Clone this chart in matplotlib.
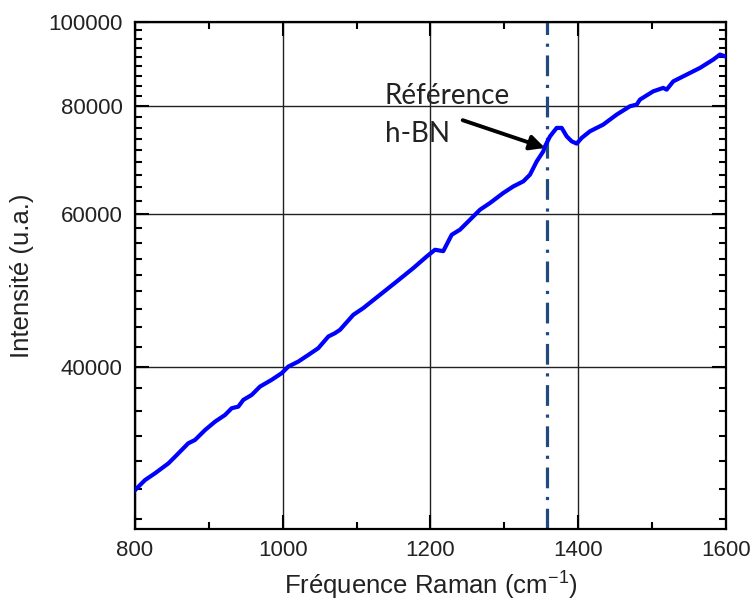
import numpy as np
import matplotlib
matplotlib.use("Agg")
from matplotlib import pyplot as plt
from matplotlib.ticker import FixedLocator, FuncFormatter, NullFormatter, MultipleLocator

plt.rcParams['font.family'] = ['Liberation Sans', 'DejaVu Sans']
plt.rcParams['mathtext.default'] = 'regular'

# spectre (cm-1, u.a.)
freq = [800.0, 813.5, 827.1, 845.1, 854.1, 872.1, 881.2, 894.8, 908.3, 921.8,
        930.9, 939.8, 946.6, 958.0, 969.2, 985.0, 998.6, 1007.5, 1021.1, 1034.6,
        1048.1, 1061.7, 1070.7, 1077.5, 1095.5, 1109.0, 1131.6, 1154.2, 1176.7, 1194.8,
        1206.1, 1217.3, 1228.7, 1239.9, 1253.5, 1267.0, 1280.5, 1298.5, 1312.1, 1325.6,
        1334.7, 1343.8, 1352.7, 1355.0, 1361.8, 1370.8, 1377.6, 1384.4, 1391.1, 1397.9,
        1404.7, 1415.9, 1433.9, 1452.1, 1470.1, 1479.1, 1483.6, 1501.6, 1515.1, 1519.7,
        1528.7, 1546.8, 1564.8, 1582.8, 1591.9, 1598.6]
intensity = [28830, 29610, 30150, 30950, 31500, 32650, 32940, 33820, 34580, 35200,
             35840, 35990, 36640, 37130, 37960, 38650, 39340, 40030, 40570, 41290,
             42040, 43360, 43750, 44140, 45930, 46760, 48440, 50180, 52000, 53630,
             54600, 54400, 56820, 57590, 59140, 60730, 61820, 63490, 64610, 65480,
             66660, 69050, 70920, 71870, 73800, 75480, 75480, 73800, 72840, 72390,
             73500, 74800, 76150, 78200, 79950, 80300, 81380, 83190, 83940, 83560,
             85420, 86960, 88520, 90500, 91720, 91300]

ref_hbn = 1358
arrow_head = (1355, 71570)
arrow_tail = (1243.6, 77040)

x_major = [800, 1000, 1200, 1400, 1600]
y_major = [40000, 60000, 80000, 100000]

fig = plt.figure(figsize=(7.53, 6.05), dpi=100)
ax = fig.add_axes([0.1793, 0.1256, 0.7848, 0.838])

ax.plot(freq, intensity, color='#0000ff', lw=3.0, zorder=3)
ax.axvline(ref_hbn, color='#1f4a80', lw=2.3, linestyle=(0, (6.5, 2.7, 1.0, 2.7)), zorder=2)

ax.set_yscale('log')
ax.set_xlim(800, 1600)
ax.set_ylim(26000, 100000)

ax.xaxis.set_major_locator(FixedLocator(x_major))
ax.xaxis.set_minor_locator(MultipleLocator(100))
ax.yaxis.set_major_locator(FixedLocator(y_major))
ax.yaxis.set_major_formatter(FuncFormatter(lambda v, p: '%d' % round(v)))
ax.yaxis.set_minor_locator(FixedLocator(np.linspace(20000, 100000, 37)))
ax.yaxis.set_minor_formatter(NullFormatter())

ax.grid(True, which='major', color='#222222', lw=1.0, zorder=1)
ax.tick_params(which='both', direction='in', top=True, right=True, width=1.5,
               labelsize=16, labelcolor='#222222')
ax.tick_params(axis='y', which='major', length=10, pad=9)
ax.tick_params(axis='x', which='major', length=10, pad=8)
ax.tick_params(which='minor', length=5)
for s in ax.spines.values():
    s.set_linewidth(1.6)

ax.set_xlabel('Fréquence Raman (cm$^{-1}$)', fontsize=18.5, color='#222222', labelpad=6)
ax.set_ylabel('Intensité (u.a.)', fontsize=18.5, color='#222222', labelpad=10)

ax.text(0.423, 0.838, 'Référence', transform=ax.transAxes, fontsize=20,
        family=['Lato', 'DejaVu Sans'], va='baseline', ha='left', color='#222222')
ax.text(0.423, 0.764, 'h-BN', transform=ax.transAxes, fontsize=20,
        family=['Lato', 'DejaVu Sans'], va='baseline', ha='left', color='#222222')
ax.annotate('', xy=arrow_head, xytext=arrow_tail,
            arrowprops=dict(arrowstyle='-|>', lw=2.8, color='black',
                            mutation_scale=22, shrinkA=0, shrinkB=0), zorder=4)

fig.savefig('out.png', dpi=100)
